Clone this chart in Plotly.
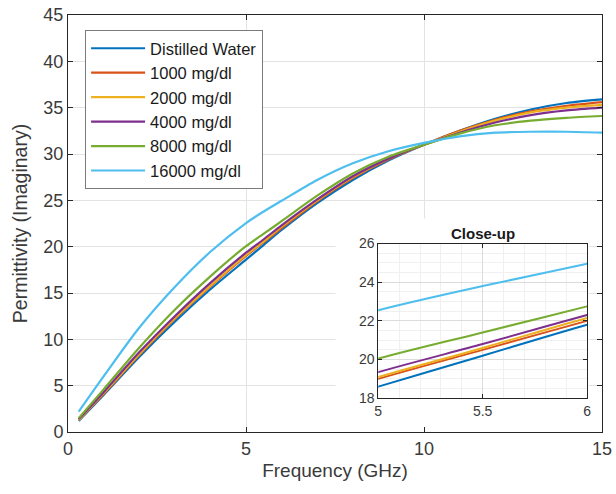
import plotly.graph_objects as go

freq = [0.3, 1, 2, 3, 4, 5, 5.5, 6, 7, 8, 9, 10, 11, 12, 13, 14, 15]

names = ["Distilled Water", "1000 mg/dl", "2000 mg/dl", "4000 mg/dl", "8000 mg/dl", "16000 mg/dl"]

dw     = [1.2, 4.0, 8.1, 11.9, 15.4, 18.6, 20.2, 21.8, 24.7, 27.2, 29.3, 31.0, 32.5, 33.8, 34.8, 35.5, 35.9]
g1000  = [1.3, 4.1, 8.3, 12.2, 15.7, 19.0, 20.5, 22.0, 24.9, 27.4, 29.4, 31.0, 32.5, 33.7, 34.6, 35.2, 35.6]
g2000  = [1.3, 4.2, 8.4, 12.3, 15.8, 19.1, 20.6, 22.15, 25.0, 27.5, 29.5, 31.0, 32.4, 33.6, 34.5, 35.0, 35.3]
g4000  = [1.4, 4.3, 8.6, 12.5, 16.1, 19.35, 20.8, 22.3, 25.1, 27.6, 29.5, 31.0, 32.3, 33.4, 34.2, 34.7, 35.0]
g8000  = [1.5, 4.6, 9.1, 13.2, 16.8, 20.05, 21.4, 22.75, 25.5, 27.9, 29.7, 31.0, 32.2, 33.1, 33.6, 33.9, 34.1]
g16000 = [2.2, 6.0, 11.25, 15.65, 19.45, 22.55, 23.8, 24.95, 27.2, 29.0, 30.3, 31.2, 31.9, 32.3, 32.4, 32.4, 32.3]

series = [dw, g1000, g2000, g4000, g8000, g16000]
colors = ["#0072BD", "#D95319", "#EDB120", "#7E2F8E", "#77AC30", "#4DBEEE"]

x_ticks = [0, 5, 10, 15]
y_ticks = [0, 5, 10, 15, 20, 25, 30, 35, 40, 45]
inset_x_ticks = [5, 5.5, 6]
inset_y_ticks = [18, 20, 22, 24, 26]

FONT = "Liberation Sans, Arial, sans-serif"
AX = "#262626"
TXT = "#3a3a3a"
GRID = "#e3e3e3"

fig = go.Figure()

for nm, ys, c in zip(names, series, colors):
    fig.add_trace(go.Scatter(x=freq, y=ys, mode="lines", name=nm,
                             line=dict(color=c, width=2.2, shape="spline", smoothing=0.8),
                             xaxis="x", yaxis="y"))

# inset: close-up of the same data
for nm, ys, c in zip(names, series, colors):
    fig.add_trace(go.Scatter(x=freq, y=ys, mode="lines", name=nm, showlegend=False,
                             line=dict(color=c, width=2.0, shape="spline", smoothing=0.8),
                             xaxis="x2", yaxis="y2"))

ix0, ix1 = 0.581, 0.972
iy0, iy1 = 0.081, 0.452
XR = [0, 15]
YR = [0, 45]

# white background behind the inset (in main-axis units, derived from the inset domain)
bx0 = XR[0] + (ix0 - 0.08) * (XR[1] - XR[0])
bx1 = XR[0] + (ix1 + 0.004) * (XR[1] - XR[0])
by0 = YR[0] + (iy0 - 0.075) * (YR[1] - YR[0])
by1 = YR[0] + (iy1 + 0.06) * (YR[1] - YR[0])

fig.update_layout(
    width=616, height=494,
    margin=dict(l=68, r=14, t=15, b=62),
    paper_bgcolor="white", plot_bgcolor="white",
    font=dict(family=FONT, color=TXT, size=18),
    showlegend=True,
    legend=dict(x=0.032, y=0.964, xanchor="left", yanchor="top",
                bgcolor="white", bordercolor="#7a7a7a", borderwidth=1,
                font=dict(size=16.5, color="#1a1a1a"), tracegroupgap=0,
                itemwidth=54),
    xaxis=dict(domain=[0, 1], range=XR, tickvals=x_ticks, ticks="inside", ticklen=5,
               tickcolor=AX, showline=True, linecolor=AX, linewidth=1, mirror="ticks",
               showgrid=True, gridcolor=GRID, gridwidth=1, zeroline=False, automargin=False,
               tickfont=dict(size=18, color=TXT),
               title=dict(text="Frequency (GHz)", font=dict(size=19, color=TXT), standoff=6)),
    yaxis=dict(domain=[0, 1], range=YR, tickvals=y_ticks, ticks="inside", ticklen=5,
               tickcolor=AX, showline=True, linecolor=AX, linewidth=1, mirror="ticks",
               showgrid=True, gridcolor=GRID, gridwidth=1, zeroline=False, automargin=False,
               tickfont=dict(size=18, color=TXT),
               title=dict(text="Permittivity (Imaginary)", font=dict(size=19.5, color=TXT), standoff=10)),
    xaxis2=dict(domain=[ix0, ix1], anchor="y2", range=[5, 6], tickvals=inset_x_ticks,
                ticktext=["5", "5.5", "6"], ticks="inside", ticklen=4, tickcolor=AX,
                showline=True, linecolor=AX, linewidth=1, mirror="ticks", automargin=False,
                showgrid=True, gridcolor="#dcdcdc", zeroline=False,
                minor=dict(dtick=0.1, showgrid=True, gridcolor="#f0f0f0", ticks=""),
                tickfont=dict(size=14, color=TXT)),
    yaxis2=dict(domain=[iy0, iy1], anchor="x2", range=[18, 26], tickvals=inset_y_ticks,
                ticks="inside", ticklen=4, tickcolor=AX, automargin=False,
                showline=True, linecolor=AX, linewidth=1, mirror="ticks",
                showgrid=True, gridcolor="#dcdcdc", zeroline=False,
                minor=dict(dtick=0.5, showgrid=True, gridcolor="#f0f0f0", ticks=""),
                tickfont=dict(size=14, color=TXT)),
    shapes=[dict(type="rect", xref="x", yref="y",
                 x0=bx0, x1=bx1, y0=by0, y1=by1,
                 fillcolor="white", line=dict(width=0), layer="between")],
    annotations=[dict(text="<b>Close-up</b>", xref="paper", yref="paper",
                      x=(ix0 + ix1) / 2, y=iy1, yanchor="bottom", xanchor="center",
                      showarrow=False, font=dict(size=15, color="#1a1a1a"), yshift=0)],
)

fig.write_html("out.html")
